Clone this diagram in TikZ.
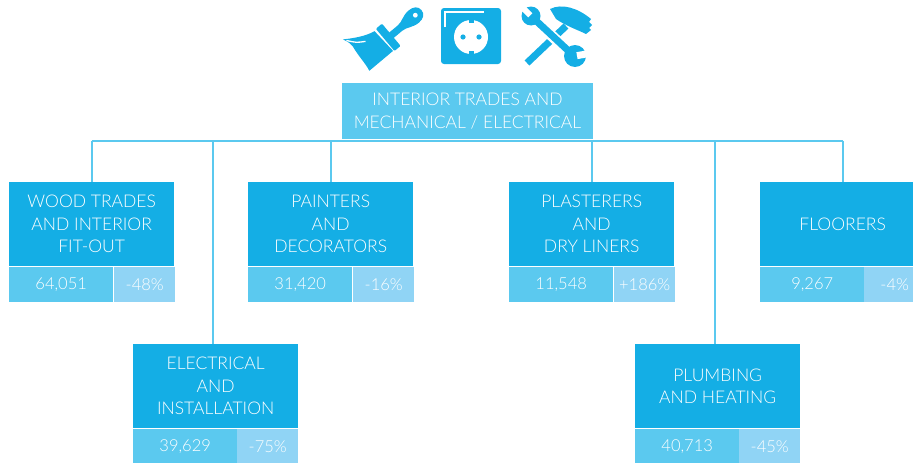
\documentclass[tikz,border=0pt]{standalone}
\usepackage{fontspec}
\setmainfont{Lato Light}
\definecolor{dk}{HTML}{14AEE5}
\definecolor{lt}{HTML}{5BC9EF}
\definecolor{lp}{HTML}{90D4F5}
\tikzset{
  mainbox/.style={fill=dk, text=white, minimum width=165pt, minimum height=84pt,
    inner sep=0pt, align=center, anchor=north west, font=\fontsize{17.5}{22.5}\selectfont},
  statl/.style={fill=lt, text=white, minimum width=104pt, minimum height=35pt,
    inner sep=0pt, anchor=north west, font=\fontsize{16.5}{22}\selectfont},
  statr/.style={fill=lp, text=white, minimum width=61pt, minimum height=35pt,
    inner sep=0pt, anchor=north west, font=\fontsize{16.5}{22}\selectfont},
  topbox/.style={fill=lt, text=white, minimum width=251pt, minimum height=56pt,
    inner sep=0pt, align=center, font=\fontsize{17.5}{22.5}\selectfont},
  conn/.style={draw=lt, line width=2pt},
  icon/.style={fill=dk}
}
\newcommand\trade[7]{%
  \node[mainbox] (#1) at (#2,#3) {#4};
  \node[statl] (#1n) at (#2,#3+85) {#5};
  \node[statr] (#1p) at (#2+104+#7,#3+85) {#6};}
\begin{document}
\begin{tikzpicture}[x=1pt,y=-1pt]
\useasboundingbox (0,0) rectangle (913,463);
% boxes
\node[topbox] (top) at (467.5,111) {INTERIOR TRADES AND\\MECHANICAL / ELECTRICAL};
\trade{wood}{9}{182}{WOOD TRADES\\AND INTERIOR\\FIT-OUT}{64,051}{-48\%}{1}
\trade{paint}{248}{182}{PAINTERS\\AND\\DECORATORS}{31,420}{-16\%}{1}
\trade{plast}{509}{182}{PLASTERERS\\AND\\DRY LINERS}{11,548}{+186\%}{1}
\trade{floor}{760}{182}{FLOORERS}{9,267}{-4\%}{0}
\trade{elec}{133}{344}{ELECTRICAL\\AND\\INSTALLATION}{39,629}{-75\%}{0}
\trade{plumb}{635}{344}{PLUMBING\\AND HEATING}{40,713}{-45\%}{0}
% connectors
\coordinate (bus) at (0,141);
\draw[conn] (wood.north |- bus) -- (floor.north |- bus);
\foreach \n in {wood,paint,plast,floor}
  \draw[conn] (\n.north |- bus) -- (\n.north);
\foreach \n in {elec,plumb}
  \draw[conn] ([xshift=-3pt]\n.north |- bus) -- ([xshift=-3pt]\n.north);
% socket icon
\fill[icon, rounded corners=3pt] (441,8) rectangle (501,64);
\draw[white, line width=2pt] (445,27) -- (445,12) -- (484,12);
\fill[white] (471,37) circle (17);
\fill[icon] (463,37) circle (2.6);
\fill[icon] (479,37) circle (2.6);
\fill[icon] (468.5,19) rectangle (473.5,23);
\fill[icon] (468.5,51) rectangle (473.5,55);
% paintbrush icon
\begin{scope}[shift={(387,39)}, rotate=40]
  \fill[icon, rounded corners=1pt] (-2,-15) rectangle (6,14);
  \fill[icon] (5,-3.5) -- (17,-3.5) .. controls (23,-3.5) and (27,-8) .. (35,-8)
    .. controls (41,-8) and (45,-5) .. (45,0) .. controls (45,5) and (41,8) .. (35,8)
    .. controls (27,8) and (23,3.5) .. (17,3.5) -- (5,3.5) -- cycle;
  \fill[white] (37,0) circle (2.4);
  \fill[icon] (-4.5,-14) .. controls (-15,-16) and (-25,-22) .. (-34,-28)
    .. controls (-31,-22) and (-31,-19) .. (-31,-16)
    .. controls (-33,-5) and (-32,5) .. (-34,13) -- (-3,13) -- cycle;
  \draw[white, line width=1.3pt] (-32,-25) .. controls (-26,-17) .. (-18,-12);
\end{scope}
% hammer icon
\draw[dk, line width=7pt] (527,63) -- (566,26);
\fill[icon] (550,9) .. controls (562,3) and (578,8) .. (591,19) -- (589,22) -- (592,25)
  -- (589,28) -- (591,30) -- (586,34) .. controls (578,30) and (566,26) .. (556,19) -- cycle;
% wrench icon
\draw[white, line width=11pt] (538,23) -- (566,49);
\draw[dk, line width=7pt] (531,16) -- (574,56);
\fill[icon] (531,16) circle (9.5);
\fill[icon] (575,56) circle (11);
\begin{scope}[shift={(531,16)}, rotate=135]
  \fill[white] (1,-3) rectangle (12,3);
\end{scope}
\begin{scope}[shift={(575,56)}, rotate=10]
  \fill[white] (2,-3.5) rectangle (14,3.5);
\end{scope}
\end{tikzpicture}
\end{document}
